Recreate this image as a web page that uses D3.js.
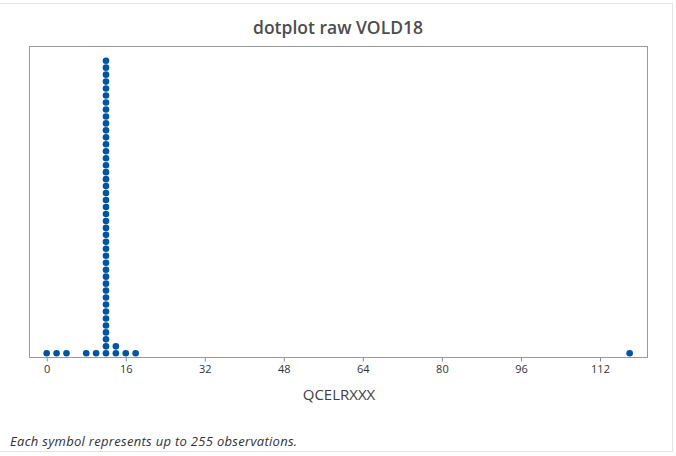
<!DOCTYPE html>
<html>
<head>
    <meta charset="utf-8" />
    <title>dotplot raw VOLD18</title>
    <style>
        body { margin: 0; background: #ffffff; }
        .title { font: 600 17.5px 'Open Sans', sans-serif; fill: #4d4d4d; }
        .ticks text { font: 11px 'Open Sans', sans-serif; fill: #333333; }
        .ticks line, .ticks path { stroke: #8c8c8c; }
        .axis-title { font: 15px 'Open Sans', sans-serif; fill: #404040; }
        .note { font: italic 13px 'Open Sans', sans-serif; fill: #333333; letter-spacing: 0.3px; }
        .frame { fill: none; stroke: #9a9a9a; stroke-width: 1px; }
        .dot { fill: #0054a6; }
    </style>
    <script src="https://cdn.jsdelivr.net/npm/d3@7"></script>
</head>
<body>
    <svg width="676" height="456"></svg>

    <script>
        // values on the axis and how many symbols stacked at each
        var values = [0, 2, 4, 8, 10, 12, 14, 16, 18, 118];
        var counts = [1, 1, 1, 1, 1, 43, 2, 1, 1, 1];
        var tickValues = [0, 16, 32, 48, 64, 80, 96, 112];

        var svg = d3.select('svg'),
            frame = { left: 29, right: 648, top: 46, bottom: 357 };

        // outer light border
        svg.append('rect')
            .attr('x', -1).attr('y', 3.5)
            .attr('width', 673.5).attr('height', 448)
            .attr('fill', 'none')
            .attr('stroke', '#e4e4e4');

        var x = d3.scaleLinear()
            .domain([0, 112])
            .range([46.7, 600]);

        // stack index -> vertical position
        var y = d3.scaleLinear()
            .domain([0, 42])
            .range([353.3, 60.7]);

        svg.append('text')
            .attr('class', 'title')
            .attr('x', 338)
            .attr('y', 34)
            .attr('text-anchor', 'middle')
            .text('dotplot raw VOLD18');

        svg.append('rect')
            .attr('class', 'frame')
            .attr('x', frame.left + 0.5)
            .attr('y', frame.top + 0.5)
            .attr('width', frame.right - frame.left - 1)
            .attr('height', frame.bottom - frame.top);

        var axis = svg.append('g')
            .attr('class', 'ticks')
            .attr('transform', 'translate(0,' + (frame.bottom + 0.5) + ')')
            .call(d3.axisBottom(x).tickValues(tickValues).tickSize(4).tickPadding(4));
        axis.select('.domain').remove();

        svg.append('text')
            .attr('class', 'axis-title')
            .attr('x', 339)
            .attr('y', 400)
            .attr('text-anchor', 'middle')
            .text('QCELRXXX');

        // expand each value into its stacked symbols
        var dots = [];
        values.forEach(function(v, i) {
            for (var k = 0; k < counts[i]; k++) dots.push({ v: v, k: k });
        });

        svg.append('g')
            .selectAll('circle')
            .data(dots)
            .enter().append('circle')
                .attr('class', 'dot')
                .attr('cx', function(d) { return x(d.v); })
                .attr('cy', function(d) { return y(d.k); })
                .attr('r', 3.3);

        svg.append('text')
            .attr('class', 'note')
            .attr('x', 10)
            .attr('y', 446)
            .text('Each symbol represents up to 255 observations.');
    </script>
</body>
</html>
